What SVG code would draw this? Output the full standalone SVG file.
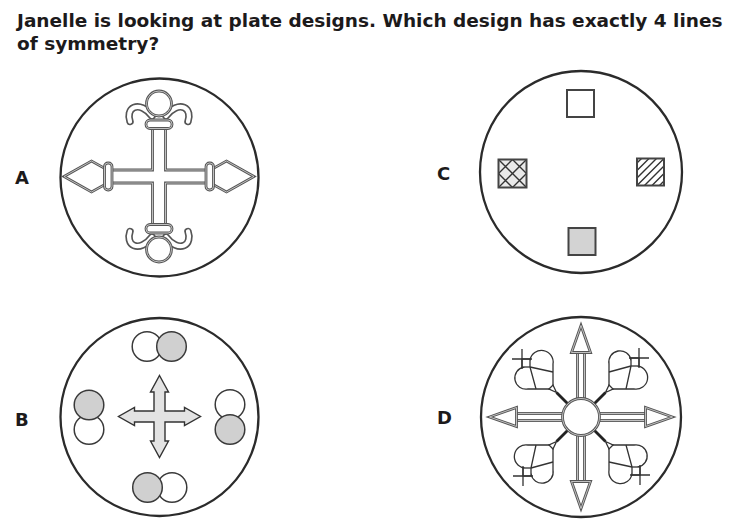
<svg xmlns="http://www.w3.org/2000/svg" xmlns:xlink="http://www.w3.org/1999/xlink" width="733" height="532" viewBox="0 0 733 532">
<style>
.t{font-family:"DejaVu Sans",Verdana,sans-serif;font-weight:bold;fill:#1c1a1b}
.plate{fill:#fff;stroke:#2b2b2b;stroke-width:2.3}
.o{fill:#fff;stroke:#555;stroke-width:2.8}
.i{fill:none;stroke:#dcdcdc;stroke-width:0.8}
.tO{fill:none;stroke:#555;stroke-width:7.5;stroke-linecap:round}
.tI{fill:none;stroke:#fff;stroke-width:4.2;stroke-linecap:round}
.bc{stroke:#3a3a3a;stroke-width:1.5}
.w{fill:#fff}
.g{fill:#d0d0d0}
.sq{stroke:#444;stroke-width:2}
.hl{fill:none;stroke:#333;stroke-width:1.4}
.bud{fill:#fff;stroke:#333;stroke-width:1.3}
.ln{fill:none;stroke:#333;stroke-width:1.3}
.stem{fill:none;stroke:#222;stroke-width:2.8}
.arr{fill:#e3e3e3;stroke:#333;stroke-width:1.4;stroke-linejoin:miter}
</style>
<defs>
<path id="aBody" d="M152.5,124 V170 H108 V183 H152.5 V229 H165.5 V183 H210 V170 H165.5 V124 Z"/>
<path id="aDL" d="M64,176.5 L91.5,161 L105,168.5 V184.5 L91.5,192 Z"/>
<path id="aDR" d="M254,176.5 L226.5,161 L213,168.5 V184.5 L226.5,192 Z"/>
<rect id="aCL" x="104.5" y="163" width="7.5" height="27" rx="3.5"/>
<rect id="aCR" x="206" y="163" width="7.5" height="27" rx="3.5"/>
<rect id="aCT" x="146" y="120" width="26" height="8.5" rx="4"/>
<rect id="aCB" x="146" y="224.5" width="26" height="8.5" rx="4"/>
<circle id="aCirT" cx="159" cy="103.5" r="12.5"/>
<circle id="aCirB" cx="159" cy="249.5" r="12.5"/>
<path id="sTL" d="M152,116 C146,108 139,105.5 134,107.5 C129,109.5 128,116 130,121.5"/>
<path id="sTR" d="M166,116 C172,108 179,105.5 184,107.5 C189,109.5 190,116 188,121.5"/>
<path id="sBL" d="M152,237 C146,245 139,247.5 134,245.5 C129,243.5 128,237 130,231.5"/>
<path id="sBR" d="M166,237 C172,245 179,247.5 184,245.5 C189,243.5 190,237 188,231.5"/>
<rect id="dSU" x="577.5" y="350" width="7" height="55"/>
<rect id="dSD" x="577.5" y="429" width="7" height="55"/>
<rect id="dSL" x="513" y="413.5" width="56" height="7"/>
<rect id="dSR" x="593" y="413.5" width="56" height="7"/>
<polygon id="dHU" points="581,325.5 590.5,352.5 571.5,352.5"/>
<polygon id="dHD" points="581,508.5 590.5,481.5 571.5,481.5"/>
<polygon id="dHL" points="489.5,417 516.5,407.5 516.5,426.5"/>
<polygon id="dHR" points="672.5,417 645.5,407.5 645.5,426.5"/>
<circle id="dC" cx="581" cy="417" r="18.5"/>
<g id="budUL">
<line class="stem" x1="568" y1="404" x2="556.5" y2="392.5"/>
<path class="bud" d="M524,367 A11,11 0 0 0 528,389 L553,389 L553,364 A11,11 0 0 0 530,360 Z"/>
<path class="ln" d="M530,367 L536,389 M530,367 L553,372"/>
<polygon class="bud" points="549,389 553,385 556.5,392.5"/>
<rect class="bud" x="522" y="359" width="8" height="8"/>
<path class="ln" d="M512,359 H532 M522,349 V369"/>
</g>
<clipPath id="clipR"><rect x="637" y="158.5" width="27" height="27"/></clipPath>
<clipPath id="clipL"><rect x="498.5" y="159.5" width="28" height="28"/></clipPath>
</defs>
<rect width="733" height="532" fill="#fff"/>

<g id="title">
<text class="t" x="17" y="27" font-size="18.5">Janelle is looking at plate designs. Which design has exactly 4 lines</text>
<text class="t" x="17" y="50" font-size="18.5">of symmetry?</text>
</g>

<g id="labels">
<text class="t" x="15" y="184" font-size="18">A</text>
<text class="t" x="15" y="426" font-size="18">B</text>
<text class="t" x="437" y="180" font-size="18">C</text>
<text class="t" x="437" y="423.5" font-size="18">D</text>
</g>

<g id="plateA">
<circle class="plate" cx="159.5" cy="177.5" r="99"/>
<use xlink:href="#sTL" class="tO"/><use xlink:href="#sTR" class="tO"/><use xlink:href="#sBL" class="tO"/><use xlink:href="#sBR" class="tO"/>
<use xlink:href="#sTL" class="tI"/><use xlink:href="#sTR" class="tI"/><use xlink:href="#sBL" class="tI"/><use xlink:href="#sBR" class="tI"/>
<use xlink:href="#aBody" class="o"/><use xlink:href="#aBody" class="i"/>
<use xlink:href="#aDL" class="o"/><use xlink:href="#aDL" class="i"/>
<use xlink:href="#aDR" class="o"/><use xlink:href="#aDR" class="i"/>
<use xlink:href="#aCL" class="o"/><use xlink:href="#aCL" class="i"/>
<use xlink:href="#aCR" class="o"/><use xlink:href="#aCR" class="i"/>
<use xlink:href="#aCT" class="o"/><use xlink:href="#aCT" class="i"/>
<use xlink:href="#aCB" class="o"/><use xlink:href="#aCB" class="i"/>
<use xlink:href="#aCirT" class="o"/><use xlink:href="#aCirT" class="i"/>
<use xlink:href="#aCirB" class="o"/><use xlink:href="#aCirB" class="i"/>
</g>

<g id="plateB">
<circle class="plate" cx="159.5" cy="417" r="99"/>
<circle class="bc w" cx="147" cy="346.5" r="14.8"/>
<circle class="bc g" cx="171.5" cy="346.5" r="14.8"/>
<circle class="bc w" cx="230" cy="404.5" r="14.8"/>
<circle class="bc g" cx="230" cy="429.5" r="14.8"/>
<circle class="bc w" cx="172" cy="487.5" r="14.8"/>
<circle class="bc g" cx="147.5" cy="487.5" r="14.8"/>
<circle class="bc w" cx="89" cy="429.5" r="14.8"/>
<circle class="bc g" cx="89" cy="405" r="14.8"/>
<path class="arr" d="M159.5,375.5 L168.5,392 L165,392 L165,411 L184.5,411 L184.5,407.5 L200.5,416.5 L184.5,425.5 L184.5,422 L165,422 L165,441 L168.5,441 L159.5,457.5 L150.5,441 L154,441 L154,422 L134.5,422 L134.5,425.5 L118.5,416.5 L134.5,407.5 L134.5,411 L154,411 L154,392 L150.5,392 Z"/>
</g>

<g id="plateC">
<circle class="plate" cx="581" cy="172" r="101"/>
<rect class="sq w" x="567" y="90" width="27" height="27"/>
<rect class="sq" fill="#d3d3d3" x="568.5" y="228" width="27" height="27"/>
<rect fill="#e9e9e9" x="498.5" y="159.5" width="28" height="28"/>
<g clip-path="url(#clipL)">
<path class="hl" stroke-width="1.8" d="M498.5,173.5 L512.5,159.5 M498.5,187.5 L526.5,159.5 M512.5,187.5 L526.5,173.5 M498.5,173.5 L512.5,187.5 M498.5,159.5 L526.5,187.5 M512.5,159.5 L526.5,173.5"/>
</g>
<rect class="sq" fill="none" x="498.5" y="159.5" width="28" height="28"/>
<rect fill="#fff" x="637" y="158.5" width="27" height="27"/>
<g clip-path="url(#clipR)">
<path class="hl" stroke-width="1.2" d="M632,168 L669,131 M632,175.5 L669,138.5 M632,183 L669,146 M632,190.5 L669,153.5 M632,198 L669,161 M632,205.5 L669,168.5 M632,213 L669,176"/>
</g>
<rect class="sq" fill="none" x="637" y="158.5" width="27" height="27"/>
</g>

<g id="plateD">
<circle class="plate" cx="581" cy="417" r="100"/>
<use xlink:href="#budUL"/>
<use xlink:href="#budUL" transform="rotate(90 581 417)"/>
<use xlink:href="#budUL" transform="rotate(180 581 417)"/>
<use xlink:href="#budUL" transform="rotate(270 581 417)"/>
<use xlink:href="#dSU" class="o"/><use xlink:href="#dSU" class="i"/>
<use xlink:href="#dSD" class="o"/><use xlink:href="#dSD" class="i"/>
<use xlink:href="#dSL" class="o"/><use xlink:href="#dSL" class="i"/>
<use xlink:href="#dSR" class="o"/><use xlink:href="#dSR" class="i"/>
<use xlink:href="#dHU" class="o"/><use xlink:href="#dHU" class="i"/>
<use xlink:href="#dHD" class="o"/><use xlink:href="#dHD" class="i"/>
<use xlink:href="#dHL" class="o"/><use xlink:href="#dHL" class="i"/>
<use xlink:href="#dHR" class="o"/><use xlink:href="#dHR" class="i"/>
<use xlink:href="#dC" class="o"/><use xlink:href="#dC" class="i"/>
</g>
</svg>
